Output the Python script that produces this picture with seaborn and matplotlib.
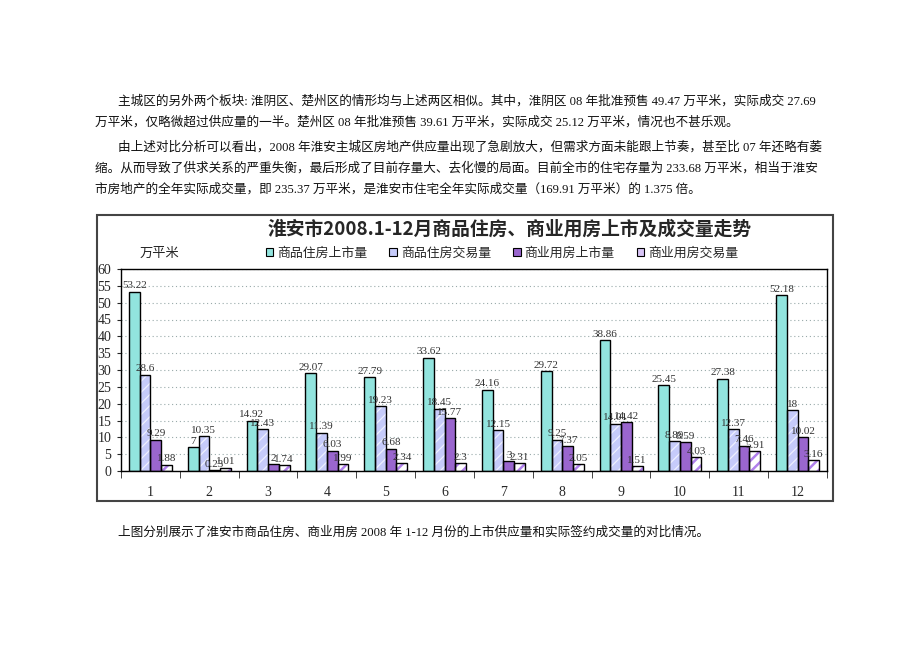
import numpy as np
import pandas as pd
import matplotlib
matplotlib.use("Agg")
import matplotlib.pyplot as plt
from matplotlib.patches import Rectangle, Patch
from matplotlib.ticker import FixedLocator, MultipleLocator
import seaborn as sns

# --- chart data ---
months = ["1", "2", "3", "4", "5", "6", "7", "8", "9", "10", "11", "12"]
series_names = ["商品住房上市量", "商品住房交易量", "商业用房上市量", "商业用房交易量"]
house_supply = [53.22, 7, 14.92, 29.07, 27.79, 33.62, 24.16, 29.72, 38.86, 25.45, 27.38, 52.18]
house_sales = [28.6, 10.35, 12.43, 11.39, 19.23, 18.45, 12.15, 9.25, 14.01, 8.89, 12.37, 18]
comm_supply = [9.29, 0.23, 2, 6.03, 6.68, 15.77, 3, 7.37, 14.42, 8.59, 7.46, 10.02]
comm_sales = [1.88, 1.01, 1.74, 1.99, 2.34, 2.3, 2.31, 2.05, 1.51, 4.03, 5.91, 3.16]

chart_title = "淮安市2008.1-12月商品住房、商业用房上市及成交量走势"
unit_label = "万平米"

paragraphs = [
    "主城区的另外两个板块: 淮阴区、楚州区的情形均与上述两区相似。其中，淮阴区 08 年批准预售 49.47 万平米，实际成交 27.69",
    "万平米，仅略微超过供应量的一半。楚州区 08 年批准预售 39.61 万平米，实际成交 25.12 万平米，情况也不甚乐观。",
    "由上述对比分析可以看出，2008 年淮安主城区房地产供应量出现了急剧放大，但需求方面未能跟上节奏，甚至比 07 年还略有萎",
    "缩。从而导致了供求关系的严重失衡，最后形成了目前存量大、去化慢的局面。目前全市的住宅存量为 233.68 万平米，相当于淮安",
    "市房地产的全年实际成交量，即 235.37 万平米，是淮安市住宅全年实际成交量（169.91 万平米）的 1.375 倍。",
    "上图分别展示了淮安市商品住房、商业用房 2008 年 1-12 月份的上市供应量和实际签约成交量的对比情况。",
]

W, H = 920, 651
TEXT_FONT = ["Liberation Serif", "Noto Sans CJK SC", "DejaVu Sans"]
CJK_FONT = ["Noto Sans CJK SC", "DejaVu Sans"]


def build_frame():
    return pd.DataFrame({
        "月份": months * 4,
        "系列": np.repeat(series_names, len(months)),
        "面积": house_supply + house_sales + comm_supply + comm_sales,
    })


sns.set_style("white")
plt.rcParams["font.family"] = TEXT_FONT
plt.rcParams["hatch.linewidth"] = 1.8

df = build_frame()

fig = plt.figure(figsize=(W / 100, H / 100), dpi=100)
ax = fig.add_axes([121 / W, 1 - 471 / H, 706 / W, 202 / H])

sns.barplot(data=df, x="月份", y="面积", hue="系列", order=months,
            hue_order=series_names, width=0.73, saturation=1,
            legend=False, ax=ax)

# face colour, hatch, hatch colour, hatch width for each series
styles = [
    ("#92E4DE", None, None, None),
    ("#C6CBFA", "///", "#EEF0FF", 0.9),
    ("#9A66CE", None, None, None),
    ("white", "///", "#B080EC", 1.8),
]

for cont, (face, hatch, hcol, hlw) in zip(ax.containers, styles):
    for p in cont:
        p.set_facecolor(face)
        if hatch:
            p.set_edgecolor(hcol)
            p.set_hatch(hatch)
            if hasattr(p, "set_hatch_linewidth"):
                p.set_hatch_linewidth(hlw)
        else:
            p.set_edgecolor(face)
        p.set_linewidth(0.5)
        # black outline drawn on top so the hatch keeps its own colour
        ax.add_patch(Rectangle(p.get_xy(), p.get_width(), p.get_height(),
                               fill=False, ec="black", lw=1.0, zorder=p.get_zorder() + 0.1))
    ax.bar_label(cont, labels=[f"{v:g}" for v in cont.datavalues],
                 padding=1, fontsize=8, color="#333333")

ax.set_ylim(0, 60)
ax.yaxis.set_major_locator(MultipleLocator(5))
ax.yaxis.grid(True, linestyle=(0, (1, 2.5)), color="#9aa", lw=0.8)
ax.set_axisbelow(True)
ax.set_xlim(-0.5, len(months) - 0.5)
ax.set_xlabel("")
ax.set_ylabel("")

ax.tick_params(axis="y", labelsize=10, length=3, direction="out", left=True, pad=4)
ax.tick_params(axis="x", which="major", length=0, labelsize=10, pad=11)
ax.xaxis.set_minor_locator(FixedLocator(np.arange(-0.5, len(months), 1.0)))
ax.tick_params(axis="x", which="minor", length=5, direction="out", bottom=True)

for s in ax.spines.values():
    s.set_visible(True)
    s.set_color("black")
    s.set_linewidth(1.0)

# outer frame of the embedded chart
fig.patches.append(Rectangle((97 / W, 1 - 501 / H), 736 / W, 286 / H,
                             transform=fig.transFigure, fill=False,
                             ec="#444444", lw=1.5))

fig.text(510 / W, 1 - 229 / H, chart_title, ha="center", va="center",
         fontsize=13.5, fontweight="bold", family=CJK_FONT)
fig.text(140 / W, 1 - 253 / H, unit_label, ha="left", va="center",
         fontsize=9.5, family=CJK_FONT)

legend_faces = ["#92E4DE", "#C6CBFA", "#9A66CE", "#D8C4F6"]
handles = [Patch(facecolor=c, edgecolor="black", lw=0.8) for c in legend_faces]
fig.legend(handles, series_names, loc="center", bbox_to_anchor=(502 / W, 1 - 253 / H),
           ncol=4, frameon=False, handlelength=0.6, handleheight=0.6,
           handletextpad=0.3, columnspacing=1.7,
           prop={"family": CJK_FONT, "size": 9.3})

# surrounding document text
text_pos = [(118, 101), (95, 122), (118, 147), (95, 168), (95, 189), (118, 533)]
for (x, y), line in zip(text_pos, paragraphs):
    fig.text(x / W, 1 - y / H, line, ha="left", va="center",
             fontsize=9.1, color="#111111", family=TEXT_FONT)

fig.savefig("out.png", dpi=100, facecolor="white")
print(">>> saved out.png")
